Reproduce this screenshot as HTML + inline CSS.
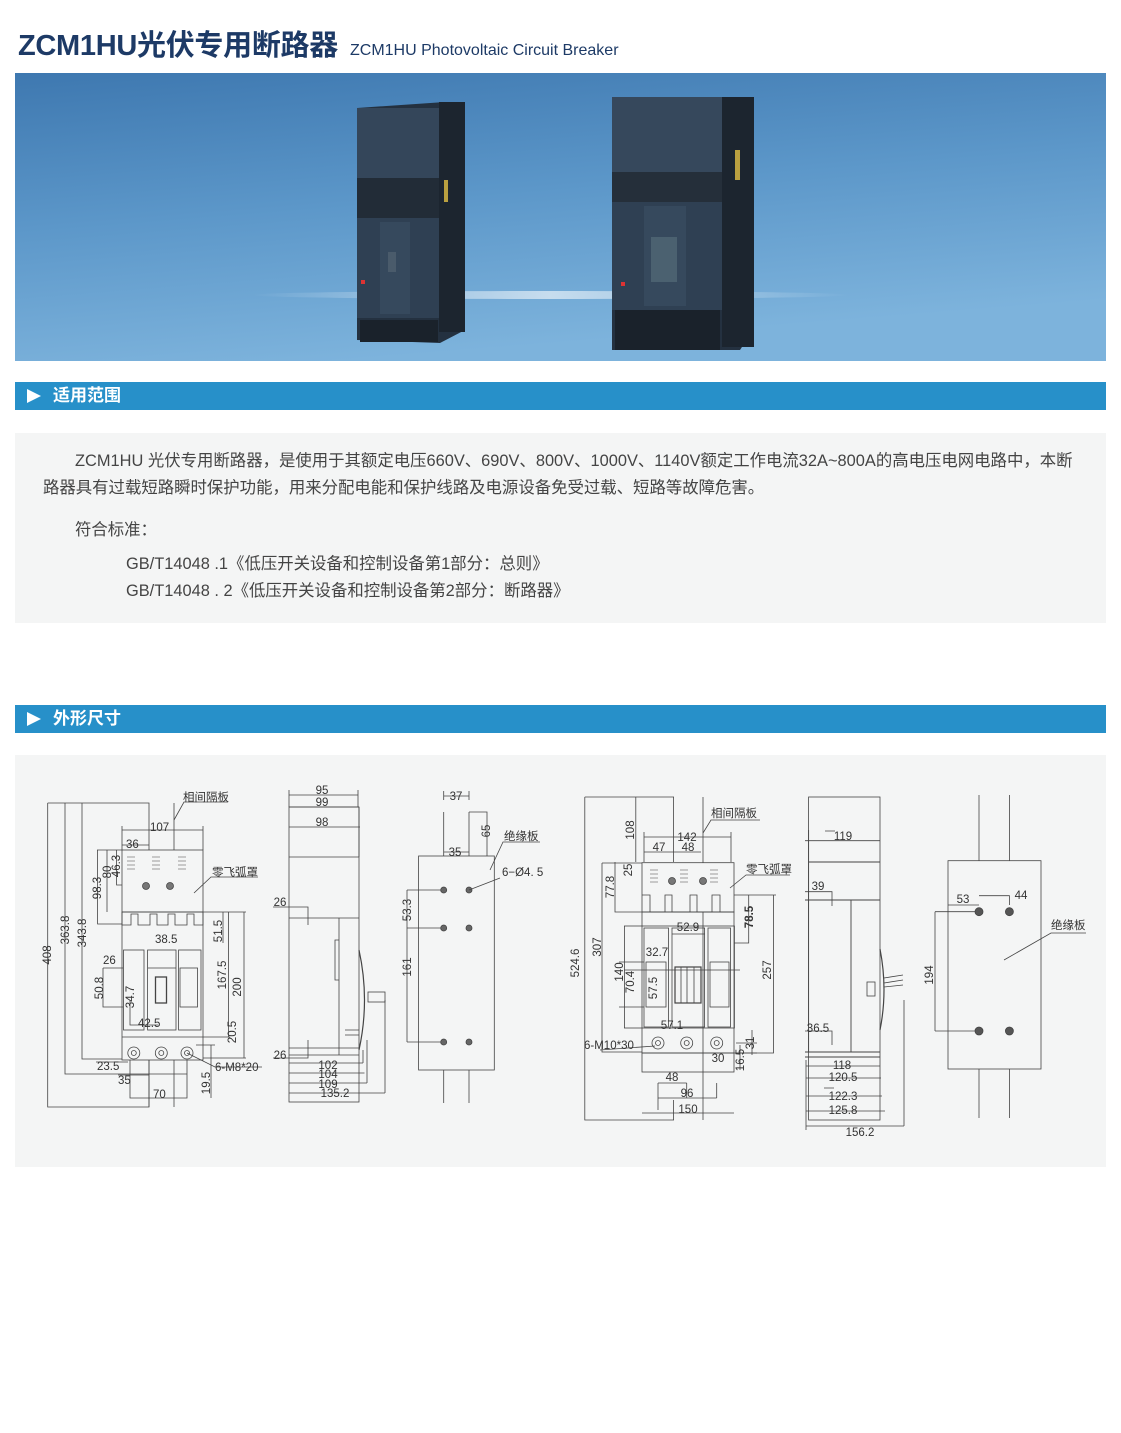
<!DOCTYPE html>
<html><head><meta charset="utf-8"><style>
body{margin:0;width:1121px;height:1433px;background:#fff;position:relative;overflow:hidden;font-family:"Liberation Sans","Noto Sans CJK SC",sans-serif}
.abs{position:absolute}
.bar{position:absolute;left:15px;width:1091px;height:28px;background:#2790c9;color:#fff;font-size:17px;font-weight:bold;line-height:28px}
.bar span{position:absolute;left:38px}
.bar i{position:absolute;left:12px;top:7px;width:0;height:0;border-left:14px solid #fff;border-top:7px solid transparent;border-bottom:7px solid transparent}
.gray{position:absolute;left:15px;width:1091px;background:#f4f5f5}
.p{position:absolute;font-size:16.4px;color:#444;white-space:nowrap}
svg text{font-family:"Liberation Sans","Noto Sans CJK SC",sans-serif;font-size:11.5px;fill:#333}
</style></head><body>
<div class="abs" style="left:18px;top:22px;font-size:29px;font-weight:bold;color:#1d3a66;white-space:nowrap;letter-spacing:-0.3px">ZCM1HU光伏专用断路器</div>
<div class="abs" style="left:350px;top:42px;font-size:16px;color:#1d3a66;white-space:nowrap">ZCM1HU Photovoltaic Circuit Breaker</div>

<svg class="abs" style="left:15px;top:73px" width="1091" height="288" viewBox="15 73 1091 288">
<defs><linearGradient id="bg" x1="0" y1="0" x2="0.3" y2="1"><stop offset="0" stop-color="#3e78b0"/><stop offset="0.5" stop-color="#5c97c9"/><stop offset="1" stop-color="#7db3dc"/></linearGradient>
<linearGradient id="sh" x1="0" y1="0" x2="1" y2="0"><stop offset="0" stop-color="#fff" stop-opacity="0"/><stop offset="0.5" stop-color="#fff" stop-opacity="0.6"/><stop offset="1" stop-color="#fff" stop-opacity="0"/></linearGradient></defs>
<rect x="15" y="73" width="1091" height="288" fill="url(#bg)"/>
<ellipse cx="550" cy="295" rx="300" ry="4" fill="url(#sh)"/>
<polygon points="357,108 445,102 465,102 465,330 440,343 357,340" fill="#243140"/>
<rect x="357" y="108" width="82" height="70" fill="#34465a"/>
<rect x="439" y="102" width="26" height="230" fill="#1c252f"/>
<rect x="357" y="178" width="82" height="40" fill="#222c37"/>
<rect x="357" y="218" width="82" height="100" fill="#2f4053"/>
<rect x="380" y="222" width="30" height="92" fill="#36495d"/>
<rect x="388" y="252" width="8" height="20" fill="#4a5b6b"/>
<rect x="360" y="320" width="78" height="22" fill="#1a222b"/>
<rect x="361" y="280" width="4" height="4" fill="#d33"/>
<rect x="444" y="180" width="4" height="22" fill="#b9a040"/>
<polygon points="612,97 753,97 753,330 740,350 612,350" fill="#243140"/>
<rect x="612" y="97" width="110" height="75" fill="#36485c"/>
<rect x="722" y="97" width="32" height="250" fill="#1c252f"/>
<rect x="612" y="172" width="110" height="30" fill="#252f3a"/>
<rect x="612" y="202" width="110" height="108" fill="#2f4053"/>
<rect x="644" y="206" width="42" height="100" fill="#36495d"/>
<rect x="651" y="237" width="26" height="45" fill="#4b6170"/>
<rect x="615" y="310" width="105" height="40" fill="#1a222b"/>
<rect x="621" y="282" width="4" height="4" fill="#d33"/>
<rect x="735" y="150" width="5" height="30" fill="#b9a040"/>
</svg>

<div class="bar" style="top:382px"><i></i><span>适用范围</span></div>
<div class="gray" style="top:433px;height:190px"></div>
<div class="p" style="left:75px;top:447px">ZCM1HU 光伏专用断路器，是使用于其额定电压660V、690V、800V、1000V、1140V额定工作电流32A~800A的高电压电网电路中，本断</div>
<div class="p" style="left:43px;top:474px">路器具有过载短路瞬时保护功能，用来分配电能和保护线路及电源设备免受过载、短路等故障危害。</div>
<div class="p" style="left:75px;top:516px">符合标准：</div>
<div class="p" style="left:126px;top:550px">GB/T14048 .1《低压开关设备和控制设备第1部分：总则》</div>
<div class="p" style="left:126px;top:577px">GB/T14048 . 2《低压开关设备和控制设备第2部分：断路器》</div>

<div class="bar" style="top:705px"><i></i><span>外形尺寸</span></div>
<div class="gray" style="top:755px;height:412px"></div>

<svg class="abs" style="left:0;top:0" width="1121" height="1433" viewBox="0 0 1121 1433" fill="none" stroke="#444" stroke-width="0.8">
<path d="M47.7,803H149V850M47.7,803V1107H149V1060M65,803V1074H187M82,803V1059H122"/>
<path d="M122,830H203M122,826V850M203,826V850M174,803V850"/>
<path d="M122,845H149M97,850H122M97.6,850V924H122M107,850V912M116.6,850V885H122"/>
<rect x="122" y="850" width="81" height="62" fill="#f4f5f5"/>
<path d="M122,912V925H131V914H138V925H150V914H157V925H168V914H175V925H187V914H194V925H203V912" />
<rect x="122" y="912" width="81" height="148"/>
<rect x="123.5" y="950" width="20.5" height="80"/>
<rect x="147.6" y="950" width="28.4" height="80"/>
<rect x="178.6" y="950" width="22.4" height="80"/>
<rect x="180" y="968" width="17.5" height="39"/>
<rect x="155.5" y="977" width="11" height="26" stroke-width="1.3"/>
<path d="M147.6,968H176M122,1037H203"/>
<g stroke-width="0.6">
<path d="M127,857h8M127,861h8M127,865h8M127,869h8M152,857h8M152,861h8M152,865h8M152,869h8M178,857h8M178,861h8M178,865h8M178,869h8"/>
</g>
<circle cx="146" cy="886" r="3.5" fill="#777"/><circle cx="170" cy="886" r="3.5" fill="#777"/>
<circle cx="133.8" cy="1053" r="6"/><circle cx="133.8" cy="1053" r="2.5"/>
<circle cx="161.3" cy="1053" r="6"/><circle cx="161.3" cy="1053" r="2.5"/>
<circle cx="187" cy="1053" r="6"/><circle cx="187" cy="1053" r="2.5"/>
<path d="M149,1060V1107M174,1060V1107M130,1060V1098H187V1060M118,1075H149M96,1062H128"/>
<path d="M211,1045V1098M196,1045H215M244,912V1058M203,912H246M228.5,912V1037M223,912V943M203,1058H246M203,1037H230"/>
<path d="M103,968V1007H123M130,1000V1025H158M103,968H123"/>
<path d="M187,1053L215,1067H262M194,893L211,877H258M174,820L184,802H228"/>
<path d="M289,795H358M289,807H359M289,827H360M289,790V807M358,790V807"/>
<rect x="289" y="807" width="70" height="295"/>
<path d="M289,857H359M289,918H359M339,918V1055M289,1048H359M289,1055H359M359,807V857"/>
<path d="M359,950Q370,1000 359,1050" stroke-width="1.2"/>
<rect x="368" y="992" width="17" height="10"/>
<path d="M339,940h-4v40h4M345,1030h14M345,1035h14M273,907H308V925M273,1058H308V1040"/>
<path d="M289,1063H363M289,1073H364.5M289,1083H367M289,1093H385M363,1050V1063M367,1040V1083M385,1000V1093"/>
<rect x="418.6" y="856" width="75.7" height="214"/>
<path d="M443.7,812V856M469,812V856M443.7,1070V1103M469,1070V1103M443.7,791V800M469,791V800M443.7,796H469"/>
<path d="M469,812H487V856M443.7,852H469M407,890H443.7M407,928H443.7M407,1042H443.7M407,890V1042"/>
<circle cx="443.7" cy="890" r="3" fill="#666"/><circle cx="469" cy="890" r="3" fill="#666"/>
<circle cx="443.7" cy="928" r="3" fill="#666"/><circle cx="469" cy="928" r="3" fill="#666"/>
<circle cx="443.7" cy="1042" r="3" fill="#666"/><circle cx="469" cy="1042" r="3" fill="#666"/>
<path d="M490,870L503,842H540M469,890L500,878"/>
<path d="M584.8,797H673.6V862M584.8,797V1120H673.6V1100M602,863V1052H642M602,863H642M635.8,797V862M615,862V912H642M703,797V1120"/>
<path d="M644,837H731M644,832V862M731,832V862M644,852H701"/>
<rect x="642" y="862.7" width="92" height="49.3" fill="#f4f5f5"/>
<path d="M642,895H650V912H665V895H672V912H690V895H697V912H712V895H720V912H734"/>
<rect x="642" y="912" width="92" height="141"/>
<rect x="624.4" y="926" width="110" height="102"/>
<rect x="644" y="928" width="24.5" height="99"/>
<rect x="672" y="928" width="32.6" height="99"/>
<rect x="708" y="928" width="22.5" height="99"/>
<rect x="646" y="962" width="20" height="45"/>
<rect x="710" y="962" width="19" height="45"/>
<rect x="675" y="967" width="26" height="36" stroke-width="1.2"/>
<path d="M681,967V1003M687,967V1003M694,967V1003"/>
<rect x="642" y="1053" width="92" height="19"/>
<circle cx="658" cy="1043" r="6"/><circle cx="658" cy="1043" r="2.5"/>
<circle cx="686.7" cy="1043" r="6"/><circle cx="686.7" cy="1043" r="2.5"/>
<circle cx="716.7" cy="1043" r="6"/><circle cx="716.7" cy="1043" r="2.5"/>
<g stroke-width="0.6"><path d="M650,870h8M650,874h8M650,878h8M650,882h8M680,870h8M680,874h8M680,878h8M680,882h8M710,870h8M710,874h8M710,878h8M710,882h8"/></g>
<circle cx="672" cy="881" r="3.5" fill="#777"/><circle cx="703" cy="881" r="3.5" fill="#777"/>
<path d="M734,895H776M748.7,895V943H734M773.5,895V1053H734M672,934H704.6M624.4,970H740M619,962H644M619,1007H644"/>
<path d="M658,1083V1110M686.7,1083V1098M716.7,1083V1098M658,1083H686.7M658,1098H716.7M642,1113H734M736,1043H757M736,1053H757M752,1030V1055M740,1045V1070"/>
<path d="M600,1050L655,1046M703,833L711,820H760M730,888L746,875H790"/>
<rect x="808.6" y="797" width="71.4" height="323"/>
<path d="M805,840.7H880M808.6,862H880M805,900H880M851,900V1052M805,1052H880M805,1057H880M808.6,830V1052" stroke-width="0.9"/>
<path d="M805,891.7H832V906M805,1031H832V1045"/>
<path d="M880,949Q888,990 880,1030" stroke-width="1.2"/>
<path d="M884,978L903,975M884,983L903,980M884,987L903,985"/>
<rect x="867" y="982" width="8" height="14"/>
<path d="M806,1066H880M806,1078H881M806,1096H882M806,1111H885M806,1126H904M904,1000V1126M806,1060V1130"/>
<path d="M825,831H835M824,1088H834"/>
<rect x="948" y="860.7" width="93" height="208.3"/>
<path d="M979,795V860.7M1009.4,795V860.7M979,1069V1118M1009.4,1069V1118"/>
<path d="M935,911.7H979M935,1031H979M935,911.7V1031M948,905H979M979,895.7H1009.4V905"/>
<circle cx="979" cy="911.7" r="4" fill="#555"/><circle cx="1009.4" cy="911.7" r="4" fill="#555"/>
<circle cx="979" cy="1031" r="4" fill="#555"/><circle cx="1009.4" cy="1031" r="4" fill="#555"/>
<path d="M1004,960L1051,933H1086"/>
</svg>

<svg class="abs" style="left:0;top:0" width="1121" height="1433" viewBox="0 0 1121 1433">
<text x="183" y="801">相间隔板</text>
<text x="150" y="831">107</text>
<text x="126" y="848">36</text>
<text x="212" y="876">零飞弧罩</text>
<text x="155" y="943">38.5</text>
<text x="103" y="964">26</text>
<text x="138" y="1027">42.5</text>
<text x="97" y="1070">23.5</text>
<text x="118" y="1084">35</text>
<text x="153" y="1098">70</text>
<text x="215" y="1071">6-M8*20</text>
<g text-anchor="middle">
<text transform="translate(51,955) rotate(-90)">408</text>
<text transform="translate(69,930) rotate(-90)">363.8</text>
<text transform="translate(86,933) rotate(-90)">343.8</text>
<text transform="translate(101,888) rotate(-90)">98.3</text>
<text transform="translate(111,872) rotate(-90)">80</text>
<text transform="translate(120,866) rotate(-90)">46.3</text>
<text transform="translate(222,931) rotate(-90)">51.5</text>
<text transform="translate(226,975) rotate(-90)">167.5</text>
<text transform="translate(241,987) rotate(-90)">200</text>
<text transform="translate(103,988) rotate(-90)">50.8</text>
<text transform="translate(134,997) rotate(-90)">34.7</text>
<text transform="translate(236,1032) rotate(-90)">20.5</text>
<text transform="translate(210,1083) rotate(-90)">19.5</text>
<text x="322" y="794">95</text>
<text x="322" y="806">99</text>
<text x="322" y="826">98</text>
<text x="280" y="906">26</text>
<text x="280" y="1059">26</text>
<text x="328" y="1069">102</text>
<text x="328" y="1078">104</text>
<text x="328" y="1088">109</text>
<text x="335" y="1097">135.2</text>
<text x="456" y="800">37</text>
<text x="455" y="856">35</text>
<text transform="translate(490,831) rotate(-90)">65</text>
<text transform="translate(411,910) rotate(-90)">53.3</text>
<text transform="translate(411,967) rotate(-90)">161</text>
<text x="687" y="841">142</text>
<text x="659" y="851">47</text>
<text x="688" y="851">48</text>
<text x="688" y="931">52.9</text>
<text x="657" y="956">32.7</text>
<text x="672" y="1029">57.1</text>
<text x="718" y="1062">30</text>
<text x="672" y="1081">48</text>
<text x="687" y="1097">96</text>
<text x="688" y="1113">150</text>
<text transform="translate(579,963) rotate(-90)">524.6</text>
<text transform="translate(601,947) rotate(-90)">307</text>
<text transform="translate(634,830) rotate(-90)">108</text>
<text transform="translate(614,887) rotate(-90)">77.8</text>
<text transform="translate(632,870) rotate(-90)">25</text>
<text transform="translate(753,917) rotate(-90)" font-weight="bold">78.5</text>
<text transform="translate(771,970) rotate(-90)">257</text>
<text transform="translate(623,972) rotate(-90)">140</text>
<text transform="translate(634,982) rotate(-90)">70.4</text>
<text transform="translate(657,988) rotate(-90)">57.5</text>
<text transform="translate(754,1043) rotate(-90)">31</text>
<text transform="translate(744,1060) rotate(-90)">16.5</text>
<text x="843" y="840">119</text>
<text x="818" y="890">39</text>
<text x="818" y="1032">36.5</text>
<text x="842" y="1069">118</text>
<text x="843" y="1081">120.5</text>
<text x="843" y="1100">122.3</text>
<text x="843" y="1114">125.8</text>
<text x="860" y="1136">156.2</text>
<text x="963" y="903">53</text>
<text x="1021" y="899">44</text>
<text transform="translate(933,975) rotate(-90)">194</text>
</g>
<text x="504" y="840">绝缘板</text>
<text x="502" y="876">6−Ø4. 5</text>
<text x="711" y="817">相间隔板</text>
<text x="746" y="873">零飞弧罩</text>
<text x="584" y="1049">6-M10*30</text>
<text x="1051" y="929">绝缘板</text>
</svg>
</body></html>
